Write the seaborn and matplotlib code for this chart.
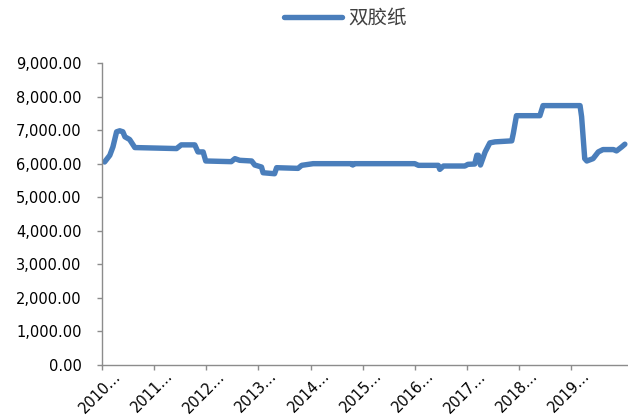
import matplotlib
matplotlib.use("Agg")
import matplotlib.pyplot as plt
import matplotlib.transforms as mtransforms
import seaborn as sns
import pandas as pd
from matplotlib.ticker import FuncFormatter

# Data (fractional year, price)
years = [2010.05, 2010.15, 2010.21, 2010.28, 2010.34, 2010.40, 2010.44, 2010.53, 2010.63,
         2011.43, 2011.52, 2011.78, 2011.84, 2011.94, 2011.99, 2012.48, 2012.55, 2012.64,
         2012.87, 2012.93, 2013.06, 2013.09, 2013.31, 2013.35, 2013.76, 2013.83, 2014.05,
         2014.78, 2014.81, 2014.84, 2016.00, 2016.07, 2016.45, 2016.48, 2016.55, 2016.96,
         2017.02, 2017.15, 2017.19, 2017.22, 2017.26, 2017.35, 2017.44, 2017.54, 2017.86,
         2017.89, 2017.95, 2018.40, 2018.46, 2019.17, 2019.20, 2019.26, 2019.30, 2019.42,
         2019.52, 2019.61, 2019.81, 2019.87, 2019.97, 2020.03]
prices = [6050, 6250, 6500, 6950, 6980, 6950, 6800, 6720, 6480,
          6450, 6560, 6560, 6350, 6350, 6080, 6060, 6150, 6100,
          6080, 5960, 5900, 5730, 5700, 5880, 5860, 5950, 6000,
          6000, 5960, 6000, 6000, 5950, 5950, 5830, 5930, 5930,
          5980, 5990, 6250, 6250, 5960, 6350, 6620, 6650, 6680,
          6900, 7430, 7430, 7730, 7730, 7400, 6150, 6080, 6150,
          6350, 6420, 6420, 6380, 6500, 6580]
series_name = "双胶纸"
tick_years = list(range(2010, 2020))
tick_labels = [f"{y}…" for y in tick_years]
y_ticks = list(range(0, 9001, 1000))

df = pd.DataFrame({"year": years, "price": prices, "series": series_name})

sns.set_style("white")
plt.rcParams['font.family'] = ['DejaVu Sans']

fig = plt.figure(figsize=(6.28, 4.19), dpi=100)
ax = fig.add_axes([102 / 628, 1 - 365 / 419, 1 - 102 / 628, (365 - 63) / 419])

line_color = "#4A7EBB"
sns.lineplot(data=df, x="year", y="price", hue="series", palette=[line_color],
             linewidth=3.9, ax=ax, legend=True)

ax.set_xlim(2010.0, 2020.09)
ax.set_ylim(0, 9000)
ax.set_yticks(y_ticks)
ax.yaxis.set_major_formatter(FuncFormatter(lambda v, p: f"{v:,.2f}"))
ax.set_xticks(tick_years)
ax.set_xticklabels(tick_labels, rotation=45, ha="right", rotation_mode="anchor")
ax.set_xlabel("")
ax.set_ylabel("")

for s in ["top", "right"]:
    ax.spines[s].set_visible(False)
for s in ["left", "bottom"]:
    ax.spines[s].set_color("#8C8C8C")
    ax.spines[s].set_linewidth(1.0)
ax.tick_params(axis="both", which="major", direction="out", length=3.6, width=1,
               color="#8C8C8C", labelsize=10.5, labelcolor="#000000", left=True, bottom=True)
ax.tick_params(axis="x", pad=1)
ax.tick_params(axis="y", pad=11)

offset = mtransforms.ScaledTranslation(0.11, 0.03, fig.dpi_scale_trans)
for lbl in ax.get_xticklabels():
    lbl.set_transform(lbl.get_transform() + offset)

handles, labels = ax.get_legend_handles_labels()
leg = ax.legend(handles, labels, loc="center", bbox_to_anchor=(345 / 628, 1 - 18 / 419),
                bbox_transform=fig.transFigure, frameon=False, handlelength=3.0,
                handletextpad=0.3, prop={"family": ["Noto Sans CJK SC", "DejaVu Sans"], "size": 14})
for t in leg.get_texts():
    t.set_color("#404040")

fig.savefig("out.png", dpi=100)
